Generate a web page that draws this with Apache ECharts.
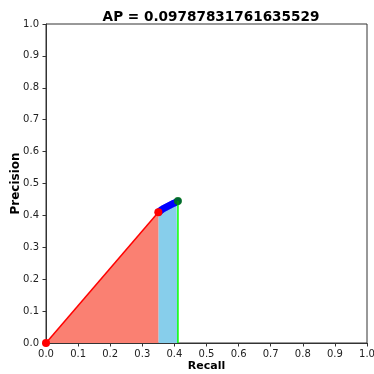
<!DOCTYPE html>
<html>
<head>
<meta charset="utf-8">
<script src="https://cdn.jsdelivr.net/npm/echarts@6/dist/echarts.min.js"></script>
<style>
  html, body { margin: 0; padding: 0; background: #fff; }
  #chart { width: 374px; height: 374px; }
</style>
</head>
<body>
<div id="chart"></div>
<script>
// recall / precision points
const redRecall = [0.0, 0.35];
const redPrecision = [0.0, 0.41];
const blueRecall = [0.35, 0.355, 0.36, 0.366, 0.372, 0.378, 0.384, 0.39, 0.396, 0.402, 0.407, 0.411];
const bluePrecision = [0.41, 0.414, 0.418, 0.422, 0.425, 0.428, 0.431, 0.434, 0.437, 0.44, 0.442, 0.445];
const endPoint = [0.411, 0.445];
const tickLabels = ['0.0', '0.1', '0.2', '0.3', '0.4', '0.5', '0.6', '0.7', '0.8', '0.9', '1.0'];
const apTitle = 'AP = 0.09787831761635529';

const font = 'DejaVu Sans';
const zip = (xs, ys) => xs.map((x, i) => [x, ys[i]]);

const chart = echarts.init(document.getElementById('chart'));

const axisCommon = {
  type: 'value',
  min: 0,
  max: 1,
  interval: 0.1,
  nameLocation: 'middle',
  nameMoveOverlap: false,
  nameTextStyle: { fontFamily: font, fontWeight: 'bold', fontSize: 11, color: '#000' },
  axisLine: { show: true, lineStyle: { color: '#333', width: 1 } },
  axisTick: { show: true, length: 3.5, lineStyle: { color: '#333' } },
  axisLabel: {
    fontFamily: font, fontSize: 10, color: '#222', margin: 6,
    formatter: v => tickLabels[Math.round(v * 10)]
  },
  splitLine: { show: false }
};

const option = {
  animation: false,
  backgroundColor: '#fff',
  title: {
    text: apTitle,
    left: 206,
    top: 5,
    textAlign: 'center',
    textStyle: { fontFamily: font, fontWeight: 'bold', fontSize: 13.6, color: '#000' }
  },
  grid: {
    left: 46, right: 7, top: 24, bottom: 31,
    containLabel: false, outerBoundsMode: 'none',
    show: true, borderColor: '#333', borderWidth: 1, backgroundColor: 'transparent'
  },
  xAxis: { ...axisCommon, name: 'Recall', nameGap: 18 },
  yAxis: {
    ...axisCommon, name: 'Precision', nameGap: 24,
    axisLabel: { ...axisCommon.axisLabel, margin: 7 },
    nameTextStyle: { ...axisCommon.nameTextStyle, fontSize: 12 }
  },
  series: [
    {
      type: 'line',
      data: zip(blueRecall, bluePrecision),
      symbol: 'circle',
      symbolSize: 7,
      showAllSymbol: true,
      itemStyle: { color: '#0000ff' },
      lineStyle: { color: '#0000ff', width: 2 },
      areaStyle: { color: '#87ceeb', opacity: 1 },
      z: 2
    },
    {
      type: 'line',
      data: zip(redRecall, redPrecision),
      symbol: 'circle',
      symbolSize: 8,
      itemStyle: { color: '#ff0000' },
      lineStyle: { color: '#ff0000', width: 1.5 },
      areaStyle: { color: '#fa8072', opacity: 1 },
      z: 3
    },
    {
      type: 'line',
      data: [[endPoint[0], 0], endPoint],
      symbol: 'none',
      lineStyle: { color: '#00ff00', width: 1.5 },
      z: 4
    },
    {
      type: 'scatter',
      data: [endPoint],
      symbolSize: 8,
      itemStyle: { color: '#008000' },
      z: 5
    }
  ]
};

chart.setOption(option);
</script>
</body>
</html>
